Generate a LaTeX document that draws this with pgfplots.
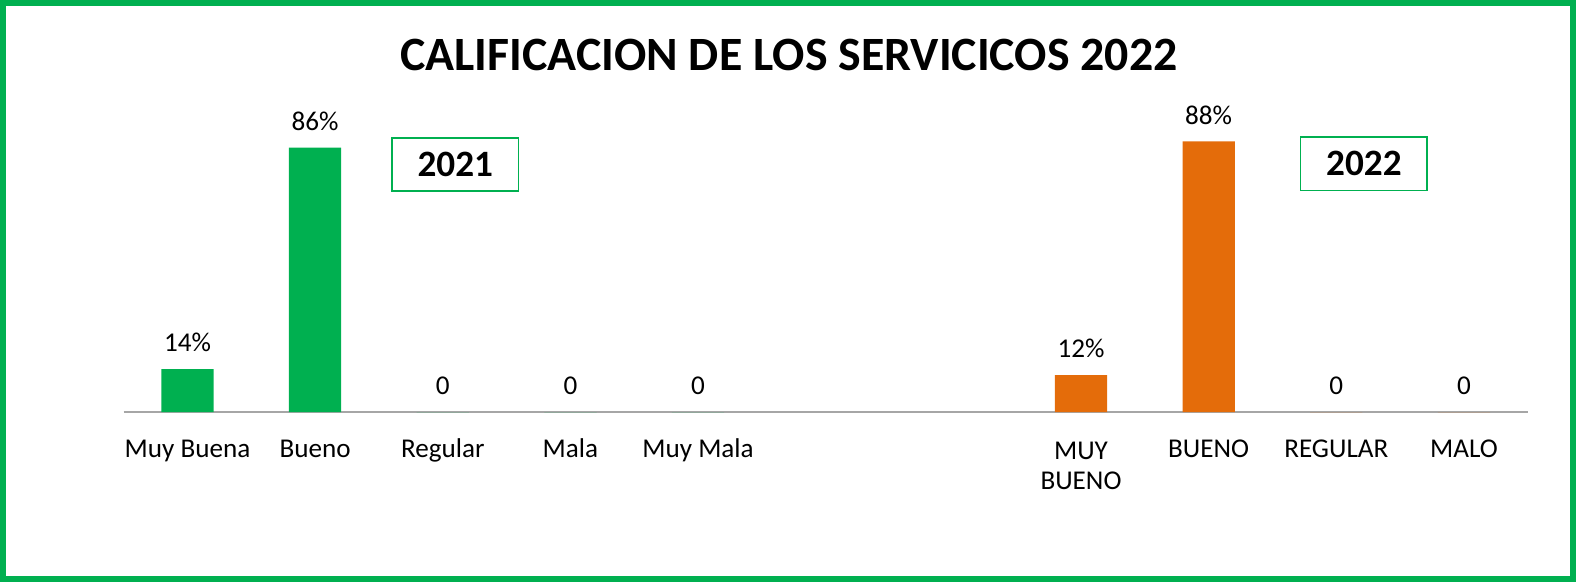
\documentclass[border=0pt]{standalone}
\usepackage{pgfplots}
\pgfplotsset{compat=1.18}
\usepackage{fontspec}
\setmainfont{Carlito}
\definecolor{xlgreen}{HTML}{00B050}
\definecolor{xlorange}{HTML}{E46C0A}
\definecolor{axgray}{HTML}{A6A6A6}

\begin{document}
\begin{tikzpicture}
% frame of the chart area
\draw[xlgreen, line width=3pt] (1.5pt,1.5pt) rectangle (782.5pt,288pt);
\node[font=\fontsize{23.8}{28}\selectfont\bfseries] at (392.5pt,262pt) {CALIFICACION DE LOS SERVICICOS 2022};

\begin{axis}[at={(61.5pt,84.5pt)}, anchor=south west, scale only axis,
  width=698.5pt, height=153pt,
  xmin=-0.5, xmax=10.5, ymin=0, ymax=100,
  ybar, bar width=26pt, bar shift=0pt,
  axis x line=bottom, axis y line=none,
  x axis line style={axgray, line width=1pt, -},
  xtick={0,1,2,3,4,7,8,9,10}, major tick length=0pt,
  xticklabels={Muy Buena,Bueno,Regular,Mala,Muy Mala,{\rule{0pt}{11.3pt}MUY\\BUENO},BUENO,REGULAR,MALO},
  xticklabel style={align=center, font=\fontsize{13.5}{15}\selectfont\strut, anchor=north, yshift=-8.7pt},
  point meta=explicit symbolic,
  nodes near coords,
  every node near coord/.append style={font=\fontsize{13.5}{15}\selectfont, anchor=south, yshift=5pt, black},
  clip=false]
\addplot[fill=xlgreen, draw=none] coordinates {(0,14) [14\%] (1,86) [86\%] (2,0) [0] (3,0) [0] (4,0) [0]};
\addplot[fill=xlorange, draw=none] coordinates {(7,12) [12\%] (8,88) [88\%] (9,0) [0] (10,0) [0]};
\end{axis}

\node[draw=xlgreen, line width=0.8pt, minimum width=63pt, minimum height=26.5pt, font=\fontsize{18.5}{20}\selectfont\bfseries] at (226.5pt,207.75pt) {\raisebox{-2pt}{2021}};
\node[draw=xlgreen, line width=0.8pt, minimum width=63pt, minimum height=26.5pt, font=\fontsize{18.5}{20}\selectfont\bfseries] at (678.5pt,208pt) {\raisebox{-2pt}{2022}};
\end{tikzpicture}
\end{document}
